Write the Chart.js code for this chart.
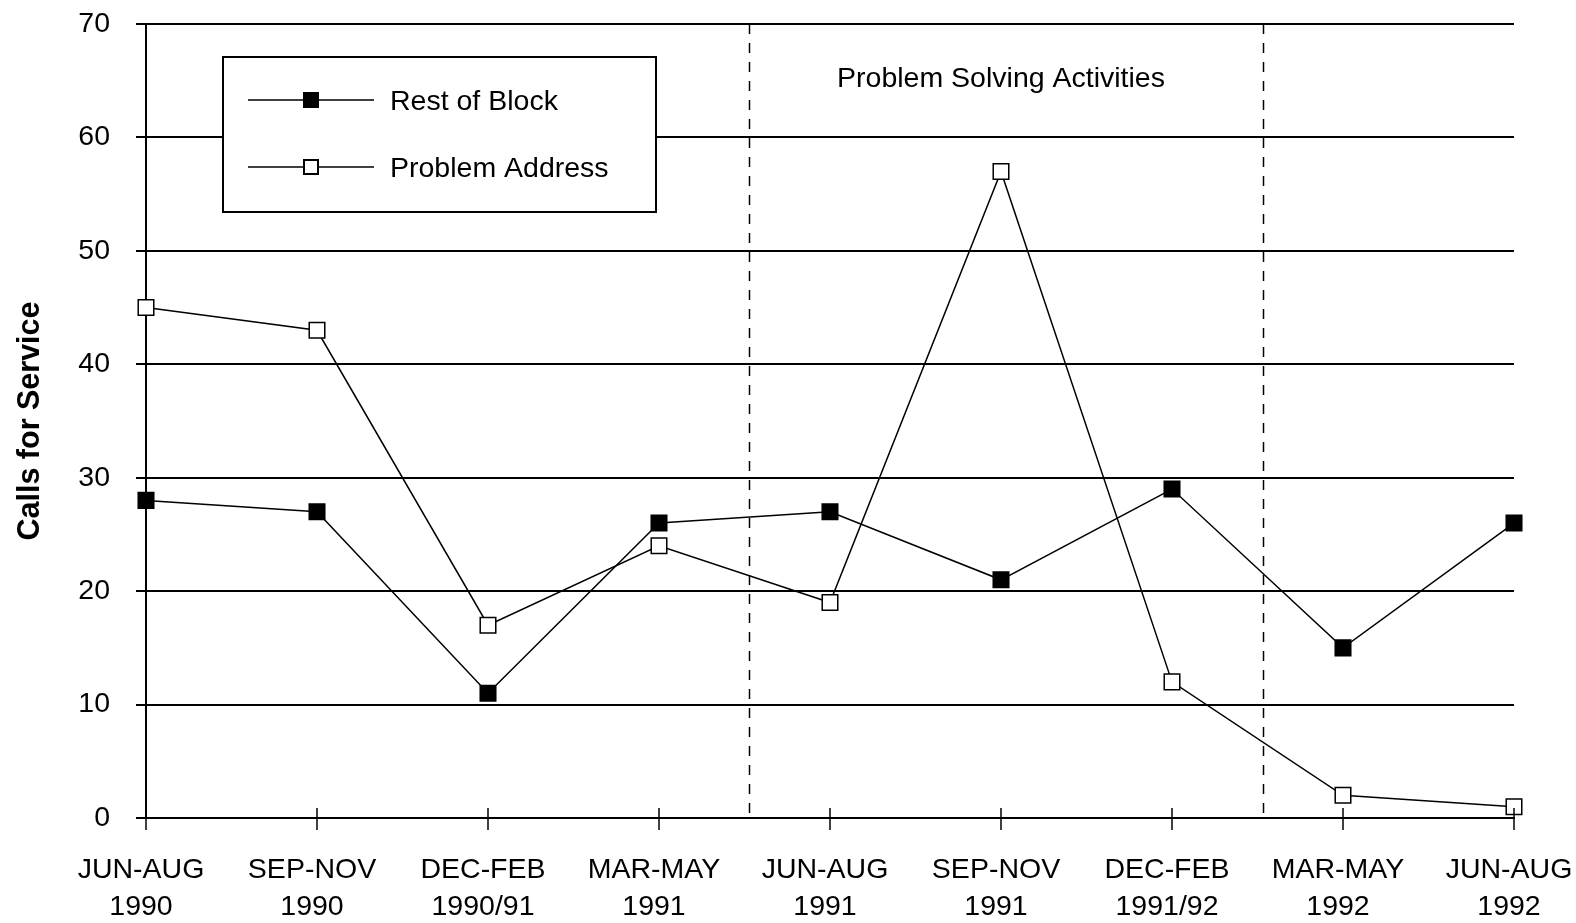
<!DOCTYPE html>
<html>
<head>
<meta charset="utf-8">
<script src="https://cdn.jsdelivr.net/npm/chart.js@4/dist/chart.umd.min.js"></script>
<style>
  html, body { margin: 0; padding: 0; background: #fff; }
  #wrap { width: 1576px; height: 923px; position: relative; }
</style>
</head>
<body>
<div id="wrap"><canvas id="c" width="1576" height="923"></canvas></div>
<script>
// Quarterly periods (two-line labels)
const periods = [
  ['JUN-AUG', '1990'], ['SEP-NOV', '1990'], ['DEC-FEB', '1990/91'],
  ['MAR-MAY', '1991'], ['JUN-AUG', '1991'], ['SEP-NOV', '1991'],
  ['DEC-FEB', '1991/92'], ['MAR-MAY', '1992'], ['JUN-AUG', '1992']
];
const restOfBlock = [28, 27, 11, 26, 27, 21, 29, 15, 26];
const problemAddress = [45, 43, 17, 24, 19, 57, 12, 2, 1];
const seriesNames = ['Rest of Block', 'Problem Address'];
const yTicks = [0, 10, 20, 30, 40, 50, 60, 70];
// Intervention period boundaries (category index positions)
const phaseBounds = [3.525, 6.53];
const phaseLabel = 'Problem Solving Activities';

const FONT = '"Liberation Sans", Arial, Helvetica, sans-serif';

const overlay = {
  id: 'overlay',
  afterDatasetsDraw(chart) {
    const ctx = chart.ctx;
    const x = chart.scales.x, y = chart.scales.y;
    const top = chart.chartArea.top, bottom = chart.chartArea.bottom;
    ctx.save();
    // tick marks crossing the category axis
    ctx.strokeStyle = '#000';
    ctx.lineWidth = 1.5;
    periods.forEach((p, i) => {
      const px = x.getPixelForValue(i);
      ctx.beginPath();
      ctx.moveTo(px, bottom - 10);
      ctx.lineTo(px, bottom + 12);
      ctx.stroke();
    });
    // dashed phase boundaries
    ctx.setLineDash([10, 9]);
    ctx.lineWidth = 1.5;
    phaseBounds.forEach(v => {
      const px = Math.round(x.getPixelForValue(v)) + 0.5;
      ctx.beginPath();
      ctx.moveTo(px, top);
      ctx.lineTo(px, bottom);
      ctx.stroke();
    });
    ctx.setLineDash([]);
    // phase label
    ctx.fillStyle = '#000';
    ctx.font = '28.5px ' + FONT;
    ctx.textAlign = 'center';
    ctx.textBaseline = 'middle';
    ctx.fillText(phaseLabel, x.getPixelForValue(5), y.getPixelForValue(65.1));
    ctx.restore();
  },
  afterDraw(chart) {
    // legend box
    const ctx = chart.ctx;
    const bx = 223, by = 57, bw = 433, bh = 155;
    ctx.save();
    ctx.fillStyle = '#fff';
    ctx.fillRect(bx, by, bw, bh);
    ctx.strokeStyle = '#000';
    ctx.lineWidth = 2;
    ctx.strokeRect(bx, by, bw, bh);
    const rows = [100, 167];
    chart.data.datasets.forEach((ds, i) => {
      const ry = rows[i];
      ctx.strokeStyle = '#000';
      ctx.lineWidth = 1.5;
      ctx.beginPath();
      ctx.moveTo(248, ry);
      ctx.lineTo(374, ry);
      ctx.stroke();
      ctx.fillStyle = ds.pointBackgroundColor;
      ctx.fillRect(304, ry - 7, 14, 14);
      ctx.lineWidth = 2;
      ctx.strokeRect(304, ry - 7, 14, 14);
      ctx.fillStyle = '#000';
      ctx.font = '28.5px ' + FONT;
      ctx.textAlign = 'left';
      ctx.textBaseline = 'middle';
      ctx.fillText(ds.label, 390, ry + 2);
    });
    ctx.restore();
  }
};

new Chart(document.getElementById('c'), {
  type: 'line',
  data: {
    labels: periods,
    datasets: [
      {
        label: seriesNames[0],
        data: restOfBlock,
        borderColor: '#000',
        borderWidth: 1.5,
        pointStyle: 'rect',
        pointRadius: 11,
        pointBorderWidth: 1.5,
        pointBorderColor: '#000',
        pointBackgroundColor: '#000',
        tension: 0
      },
      {
        label: seriesNames[1],
        data: problemAddress,
        borderColor: '#000',
        borderWidth: 1.5,
        pointStyle: 'rect',
        pointRadius: 11,
        pointBorderWidth: 1.5,
        pointBorderColor: '#000',
        pointBackgroundColor: '#fff',
        tension: 0
      }
    ]
  },
  options: {
    responsive: false,
    animation: false,
    devicePixelRatio: 1,
    layout: { padding: { top: 24, right: 62, bottom: 0, left: 0 } },
    plugins: { legend: { display: false }, tooltip: { enabled: false } },
    scales: {
      x: {
        type: 'category',
        offset: false,
        grid: { display: false, drawTicks: false },
        border: { display: true, color: '#000', width: 2 },
        ticks: {
          color: '#000',
          font: { family: FONT, size: 28.5, lineHeight: 1.3 },
          padding: 34,
          labelOffset: -5,
          maxRotation: 0,
          autoSkip: false
        },
        afterFit(s) {
          s.height = 105;
          s.paddingLeft = 0; s.paddingRight = 0;
          s.paddingTop = 0; s.paddingBottom = 0;
        }
      },
      y: {
        min: 0,
        max: 70,
        afterBuildTicks(s) { s.ticks = yTicks.map(v => ({ value: v })); },
        grid: { color: '#000', lineWidth: 2, tickLength: 10, drawTicks: true },
        border: { display: true, color: '#000', width: 2 },
        ticks: {
          color: '#000',
          font: { family: FONT, size: 28.5 },
          padding: 26
        },
        title: {
          display: true,
          text: 'Calls for Service',
          color: '#000',
          font: { family: FONT, size: 30.5, weight: 'bold' },
          padding: { top: 12, bottom: 0 }
        },
        afterFit(s) {
          s.width = 146;
          s.paddingLeft = 0; s.paddingRight = 0;
          s.paddingTop = 0; s.paddingBottom = 0;
        }
      }
    }
  },
  plugins: [overlay]
});
</script>
</body>
</html>
